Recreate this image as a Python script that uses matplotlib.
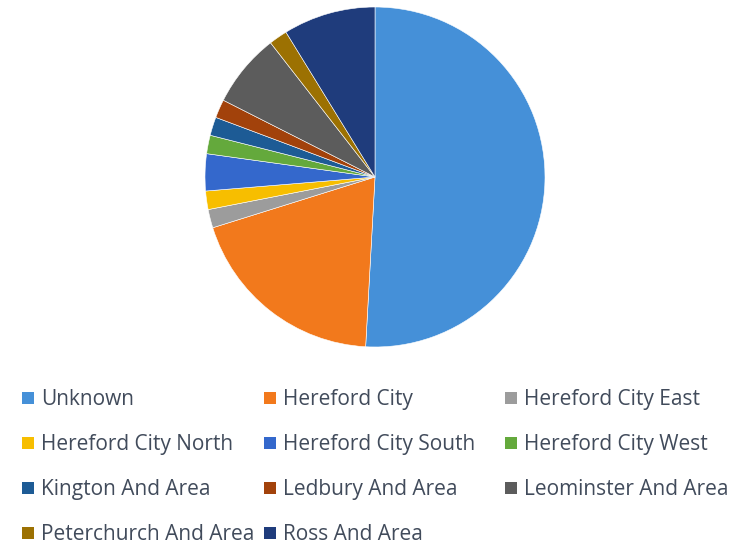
import matplotlib
matplotlib.use("Agg")
import matplotlib.pyplot as plt
from matplotlib.patches import Rectangle

categories = ["Unknown", "Hereford City", "Hereford City East", "Hereford City North",
              "Hereford City South", "Hereford City West", "Kington And Area",
              "Ledbury And Area", "Leominster And Area", "Peterchurch And Area",
              "Ross And Area"]
values = [29, 11, 1, 1, 2, 1, 1, 1, 4, 1, 5]
colors = ["#4590D8", "#F2791C", "#9C9C9C", "#F7BE00", "#3468CC", "#64A93C",
          "#1D5B95", "#A2420B", "#5C5C5C", "#9C7102", "#1F3C7C"]

fig = plt.figure(figsize=(7.44, 5.44), dpi=100)
ax = fig.add_axes([205/744, (544-347)/544, 340/744, 340/544])
ax.pie(values, colors=colors, startangle=90, counterclock=False,
       wedgeprops=dict(edgecolor="white", linewidth=0.4))
ax.set_aspect("equal")
ax.set_xlim(-1, 1)
ax.set_ylim(-1, 1)

# legend
lax = fig.add_axes([0, 0, 1, 1])
lax.set_xlim(0, 744)
lax.set_ylim(544, 0)
lax.axis("off")
col_x = [22, 264, 505]
row_y = [398, 443, 488, 533]
for i, (name, c) in enumerate(zip(categories, colors)):
    r, k = divmod(i, 3)
    x, y = col_x[k], row_y[r]
    lax.add_patch(Rectangle((x, y - 6), 12, 12, facecolor=c, edgecolor="none"))
    lax.text(x + 19, y + 1.5, name, fontsize=15, family="Open Sans", color="#414B5B",
             va="center", ha="left")

fig.savefig("out.png", dpi=100)
